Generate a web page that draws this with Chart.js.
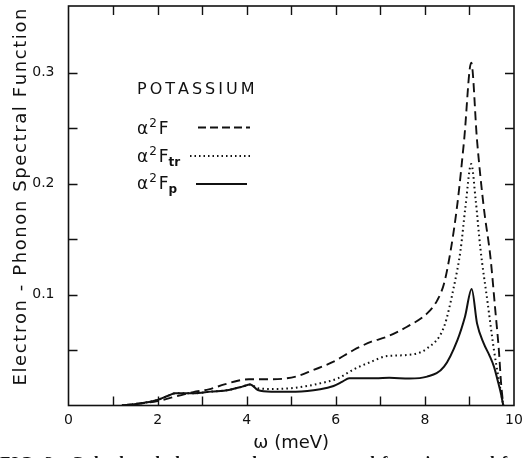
<!DOCTYPE html>
<html><head><meta charset="utf-8">
<script src="https://cdn.jsdelivr.net/npm/chart.js@4/dist/chart.umd.min.js"></script>
<style>html,body{margin:0;padding:0;background:#fff;overflow:hidden}canvas{display:block}</style>
</head><body>
<canvas id="c" width="526" height="458"></canvas>
<script>
// ---- data ----
const omegaF   = [1.2, 1.65, 2.0, 2.4, 2.8, 3.15, 3.5, 3.8, 4.05, 4.55, 5.1, 5.5, 5.95, 6.4, 6.8, 7.15, 7.6, 8.05, 8.28, 8.43, 8.58, 8.73, 8.88, 9.04, 9.17, 9.32, 9.47, 9.58, 9.66, 9.71, 9.76];
const alpha2F  = [0, 0.002, 0.004, 0.008, 0.012, 0.0146, 0.019, 0.0223, 0.0236, 0.0236, 0.026, 0.032, 0.0395, 0.05, 0.0575, 0.062, 0.071, 0.083, 0.095, 0.11, 0.14, 0.182, 0.239, 0.309, 0.239, 0.179, 0.134, 0.086, 0.05, 0.02, 0];

const omegaTr  = [1.2, 1.7, 2.0, 2.25, 2.4, 2.8, 3.2, 3.6, 3.9, 4.08, 4.25, 4.55, 5.1, 5.65, 6.05, 6.4, 6.8, 7.15, 7.6, 8.05, 8.43, 8.65, 8.8, 8.91, 9.04, 9.14, 9.25, 9.4, 9.55, 9.66, 9.76];
const alpha2Ftr= [0, 0.0025, 0.005, 0.009, 0.011, 0.011, 0.0125, 0.014, 0.017, 0.019, 0.0155, 0.0149, 0.016, 0.02, 0.0245, 0.0326, 0.0395, 0.0446, 0.0455, 0.0515, 0.071, 0.107, 0.14, 0.179, 0.2176, 0.185, 0.14, 0.095, 0.05, 0.023, 0];

const omegaP   = [1.2, 1.7, 2.0, 2.25, 2.4, 2.8, 3.2, 3.6, 3.9, 4.08, 4.25, 4.55, 5.1, 5.65, 5.95, 6.15, 6.3, 6.9, 7.2, 7.65, 8.05, 8.43, 8.73, 8.9, 9.05, 9.17, 9.32, 9.45, 9.55, 9.65, 9.7, 9.76];
const alpha2Fp = [0, 0.0025, 0.005, 0.009, 0.011, 0.011, 0.0125, 0.014, 0.017, 0.019, 0.014, 0.0125, 0.0125, 0.0146, 0.0176, 0.0215, 0.0245, 0.0245, 0.025, 0.0243, 0.026, 0.035, 0.059, 0.08, 0.105, 0.074, 0.056, 0.045, 0.035, 0.02, 0.012, 0];

const xTickMarks = [1, 2, 3, 4, 5, 6, 7, 8, 9];
const xTickLabels = ['0', '2', '4', '6', '8', '10'];
const yTickMarks = [0.05, 0.1, 0.15, 0.2, 0.25, 0.3];
const yTickLabels = ['0.1', '0.2', '0.3'];
const yTitle = 'Electron - Phonon Spectral Function';
const xTitle = '\u03C9 (meV)';
const caption = 'FIG. 2.  Calculated electron-phonon spectral functions and f';

const FONT = "'DejaVu Sans', sans-serif";
const INK = '#111';

function pts(xs, ys) { return xs.map((x, i) => ({ x: x, y: ys[i] })); }

function spaced(ctx, text, x, y, sp) {
  for (const ch of text) { ctx.fillText(ch, x, y); x += ctx.measureText(ch).width + sp; }
  return x;
}
function spacedWidth(ctx, text, sp) {
  let w = 0; for (const ch of text) w += ctx.measureText(ch).width + sp; return w - sp;
}

const framePlugin = {
  id: 'frame',
  afterDatasetsDraw(chart) {
    const { ctx, chartArea: a, scales: { x, y } } = chart;
    ctx.save();
    ctx.strokeStyle = INK;
    ctx.lineWidth = 1.6;
    ctx.strokeRect(a.left, a.top, a.right - a.left, a.bottom - a.top);
    ctx.lineWidth = 1.4;
    ctx.beginPath();
    xTickMarks.forEach(v => {
      const px = Math.round(x.getPixelForValue(v)) + 0.5;
      ctx.moveTo(px, a.bottom); ctx.lineTo(px, a.bottom - 9);
      ctx.moveTo(px, a.top); ctx.lineTo(px, a.top + 9);
    });
    yTickMarks.forEach(v => {
      const py = Math.round(y.getPixelForValue(v)) + 0.5;
      ctx.moveTo(a.left, py); ctx.lineTo(a.left + 9, py);
      ctx.moveTo(a.right, py); ctx.lineTo(a.right - 9, py);
    });
    ctx.stroke();
    ctx.restore();
  }
};

const legendPlugin = {
  id: 'customLegend',
  afterDraw(chart) {
    const ctx = chart.ctx;
    ctx.save();
    ctx.fillStyle = INK;
    ctx.strokeStyle = INK;
    ctx.textBaseline = 'alphabetic';
    ctx.textAlign = 'left';

    // rotated y-axis title with letter spacing
    ctx.save();
    ctx.font = '18px ' + FONT;
    const sp = 1.6;
    const w = spacedWidth(ctx, yTitle, sp);
    ctx.translate(26, 197);
    ctx.rotate(-Math.PI / 2);
    spaced(ctx, yTitle, -w / 2, 0, sp);
    ctx.restore();

    ctx.font = '16px ' + FONT;
    spaced(ctx, 'POTASSIUM', 137, 94, 3);

    const rows = [
      { sub: '', base: 134, lx0: 198, lx1: 250, ly: 127.5, dash: [8, 4] },
      { sub: 'tr', base: 161.5, lx0: 190, lx1: 250, ly: 156, dash: [1.5, 3] },
      { sub: 'p', base: 189, lx0: 196, lx1: 247, ly: 184, dash: [] }
    ];
    rows.forEach(r => {
      let x = 137;
      ctx.font = '17px ' + FONT;
      ctx.fillText('\u03B1', x, r.base); x += ctx.measureText('\u03B1').width + 1;
      ctx.font = '12px ' + FONT;
      ctx.fillText('2', x, r.base - 7); x += ctx.measureText('2').width + 2;
      ctx.font = '17px ' + FONT;
      ctx.fillText('F', x, r.base); x += ctx.measureText('F').width;
      if (r.sub) { ctx.font = 'bold 12px ' + FONT; ctx.fillText(r.sub, x, r.base + 4); }
      ctx.lineWidth = r.dash.length ? 1.8 : 2;
      ctx.setLineDash(r.dash);
      ctx.beginPath(); ctx.moveTo(r.lx0, r.ly); ctx.lineTo(r.lx1, r.ly); ctx.stroke();
    });
    ctx.setLineDash([]);
    // partly visible figure caption below the plot (only its top edge is inside the frame)
    ctx.font = 'bold 17px "Liberation Serif", serif';
    spaced(ctx, caption, 0, 467.5, 1.2);
    ctx.restore();
  }
};

new Chart(document.getElementById('c'), {
  type: 'line',
  data: {
    datasets: [
      { label: '\u03B1\u00B2F', data: pts(omegaF, alpha2F), borderColor: INK, borderWidth: 1.9, borderDash: [9, 5], pointRadius: 0, cubicInterpolationMode: 'monotone', fill: false },
      { label: '\u03B1\u00B2F_tr', data: pts(omegaTr, alpha2Ftr), borderColor: INK, borderWidth: 2, borderDash: [1.6, 3.2], pointRadius: 0, cubicInterpolationMode: 'monotone', fill: false },
      { label: '\u03B1\u00B2F_p', data: pts(omegaP, alpha2Fp), borderColor: INK, borderWidth: 2, pointRadius: 0, cubicInterpolationMode: 'monotone', fill: false }
    ]
  },
  options: {
    responsive: false,
    animation: false,
    events: [],
    layout: { padding: { top: 6, right: 12, left: 0, bottom: 0 } },
    plugins: { legend: { display: false }, tooltip: { enabled: false }, title: { display: false } },
    scales: {
      x: {
        type: 'linear', min: 0, max: 10,
        grid: { display: false, drawTicks: false },
        border: { display: false },
        ticks: {
          stepSize: 1, autoSkip: false, maxRotation: 0, padding: 6,
          color: INK, font: { family: FONT, size: 14 },
          callback: v => (v % 2 === 0 ? xTickLabels[v / 2] : '')
        },
        title: { display: true, text: xTitle, color: INK, font: { family: FONT, size: 18 }, padding: { top: 0, bottom: 4 } },
        afterFit(s) { s.height = 52.5; s.paddingLeft = 0; s.paddingRight = 0; }
      },
      y: {
        type: 'linear', min: 0, max: 0.36,
        grid: { display: false, drawTicks: false },
        border: { display: false },
        ticks: {
          stepSize: 0.05, autoSkip: false, padding: 14,
          color: INK, font: { family: FONT, size: 14 },
          callback: v => {
            const i = [0.1, 0.2, 0.3].findIndex(t => Math.abs(t - v) < 1e-6);
            return i >= 0 ? yTickLabels[i] : '';
          }
        },
        title: { display: false },
        afterFit(s) { s.width = 68.5; s.paddingTop = 0; s.paddingBottom = 0; }
      }
    }
  },
  plugins: [framePlugin, legendPlugin]
});
</script>
</body></html>
